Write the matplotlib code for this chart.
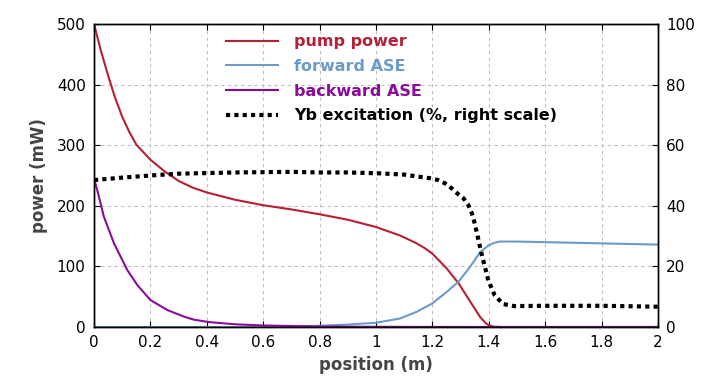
import matplotlib
matplotlib.use("Agg")
import matplotlib.pyplot as plt
import numpy as np

# position (m) and powers (mW)
x_pump = [0, 0.025, 0.05, 0.075, 0.1, 0.125, 0.15, 0.2, 0.25, 0.3, 0.35, 0.4, 0.45, 0.5, 0.6, 0.7, 0.8, 0.9, 1.0, 1.085, 1.14, 1.17, 1.2, 1.25, 1.293, 1.334, 1.37, 1.39, 1.4, 1.417, 1.45, 1.6, 1.8, 2.0]
pump = [500, 455, 415, 378, 347, 322, 301, 276, 257, 241, 230, 222, 216, 210, 201, 194, 186, 177, 165, 151, 139, 131, 121, 97, 72, 42, 16, 6, 3, 0.5, 0, 0, 0, 0]

x_fwd = [0, 0.5, 0.6, 0.7, 0.8, 0.9, 1.0, 1.085, 1.144, 1.2, 1.251, 1.293, 1.334, 1.37, 1.4, 1.42, 1.44, 1.5, 1.6, 1.7, 1.8, 1.9, 2.0]
fwd = [0, 0, 0.5, 1, 2, 4, 7, 14, 25, 39, 58, 75, 99.5, 124, 135, 139, 141, 141, 140, 139, 138, 137, 136]

x_bwd = [0, 0.012, 0.035, 0.071, 0.118, 0.154, 0.2, 0.26, 0.32, 0.355, 0.41, 0.5, 0.6, 0.8, 1.0, 1.2, 1.4, 2.0]
bwd = [245, 225, 182, 138, 94, 69, 44.5, 28, 17, 12, 8, 4.5, 2.5, 0.8, 0.3, 0.1, 0, 0]

# Yb excitation (%)
x_exc = [0, 0.1, 0.2, 0.3, 0.4, 0.5, 0.6, 0.7, 0.8, 0.9, 1.014, 1.1, 1.191, 1.22, 1.245, 1.268, 1.288, 1.31, 1.327, 1.34, 1.35, 1.362, 1.374, 1.386, 1.398, 1.41, 1.42, 1.45, 1.49, 1.6, 1.8, 2.0]
exc = [48.5, 49.3, 50.0, 50.6, 50.8, 51.0, 51.1, 51.2, 51.0, 51.0, 50.7, 50.3, 49.1, 48.5, 47.4, 45.8, 44.1, 42.5, 40.3, 37.5, 34.2, 29.3, 24.3, 19.9, 15.5, 12.8, 10.6, 7.6, 6.9, 7.0, 7.0, 6.7]

c_pump = "#b52036"
c_fwd = "#6c9bc8"
c_bwd = "#8a0c9b"

fig = plt.figure(figsize=(7.03, 3.84), dpi=100)
ax = fig.add_axes([94/703, 57/384, 564/703, 303/384])
ax2 = ax.twinx()

l1, = ax.plot(x_pump, pump, color=c_pump, lw=1.5, label="pump power")
l2, = ax.plot(x_fwd, fwd, color=c_fwd, lw=1.5, label="forward ASE")
l3, = ax.plot(x_bwd, bwd, color=c_bwd, lw=1.5, label="backward ASE")
l4, = ax2.plot(x_exc, exc, color="black", lw=3, linestyle=(0, (1, 1)), label="Yb excitation (%, right scale)")

ax.set_xlim(0, 2)
ax.set_ylim(0, 500)
ax2.set_ylim(0, 100)
ax.set_xticks(np.arange(0, 2.01, 0.2))
ax.set_xticklabels(["0", "0.2", "0.4", "0.6", "0.8", "1", "1.2", "1.4", "1.6", "1.8", "2"])
ax.set_yticks(np.arange(0, 501, 100))
ax2.set_yticks(np.arange(0, 101, 20))

ax.grid(True, color="#c0c0c0", linestyle=(0, (3, 3)), lw=0.8)
ax.set_axisbelow(True)
for a in (ax, ax2):
    a.tick_params(direction="in", length=4, labelsize=11, colors="black", pad=6)
    for s in a.spines.values():
        s.set_linewidth(1.0)
ax.tick_params(top=True)

ax.set_xlabel("position (m)", fontsize=12, fontweight="bold", color="#444444", labelpad=4)
ax.set_ylabel("power (mW)", fontsize=12, fontweight="bold", color="#444444", labelpad=6)

leg = ax.legend(handles=[l1, l2, l3, l4], loc="upper left", bbox_to_anchor=(0.215, 1.0),
                frameon=False, prop={"weight": "bold", "size": 11.5}, handlelength=3.3,
                handletextpad=1.0, labelspacing=0.6, borderaxespad=0.25)
for t, c in zip(leg.get_texts(), [c_pump, c_fwd, c_bwd, "black"]):
    t.set_color(c)

fig.savefig("out.png", dpi=100)
